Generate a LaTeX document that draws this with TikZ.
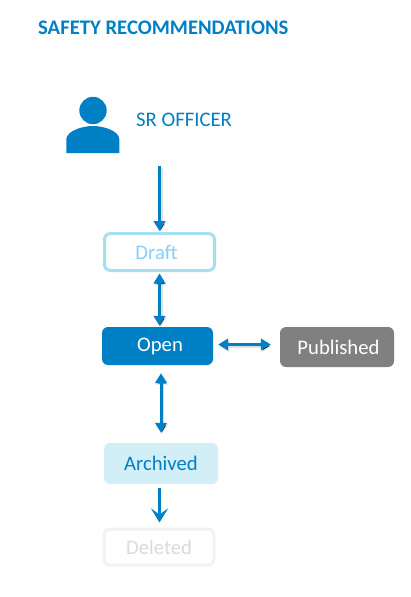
\documentclass[tikz,border=0pt]{standalone}
\usepackage{fontspec}
\setmainfont{Carlito}
\usetikzlibrary{arrows.meta}
\definecolor{srblue}{HTML}{0080C4}
\definecolor{srlight}{HTML}{A5E0F0}
\definecolor{srpale}{HTML}{D2EEF6}
\definecolor{srgrey}{HTML}{808080}
\definecolor{srtext}{HTML}{85CFFA}
\tikzset{
  x=1pt,y=-1pt,
  box/.style={rounded corners=6pt,minimum height=0pt,inner sep=0pt,font=\fontsize{20.7}{24}\selectfont},
  link/.style={draw=srblue,line width=3pt,
    preaction={draw=black,draw opacity=.12,line width=4pt,transform canvas={shift={(1pt,-1.5pt)}}}},
  dbl/.style={link,{Triangle[length=10pt,width=11.5pt]}-{Triangle[length=10pt,width=11.5pt]}},
  sgl/.style={link,-{Triangle[length=10pt,width=11.5pt]}},
  opn/.style={draw=srblue,line width=3pt,-{Stealth[length=14pt,width=17pt,inset=6pt]}},
}
\begin{document}
\begin{tikzpicture}
\useasboundingbox (0,0) rectangle (411,597);
\node[anchor=west,text=srblue,inner sep=0pt,font=\fontsize{20.7}{24}\selectfont\bfseries] (title) at (38,28) {SAFETY RECOMMENDATIONS};
\node[anchor=west,text=srblue,inner sep=0pt,font=\fontsize{20.7}{24}\selectfont] (officer) at (136,120) {SR OFFICER};
\fill[srblue] (93,110.5) circle (13.7);
\fill[srblue] (66.3,153) -- (66.3,139) .. controls (67,131) and (82,126) .. (93,126) .. controls (104,126) and (119,131) .. (119.3,139) -- (119.3,153) -- cycle;
\coordinate (iconfoot) at (159.5,166);
\node[box,draw=srlight,line width=3pt,fill=white,text=srtext,minimum width=110pt,minimum height=37pt] (draft) at (159.5,252) {\hspace*{-6pt}Draft};
\node[box,fill=srblue,text=white,minimum width=111pt,minimum height=38pt] (open) at (157.5,346) {\hspace*{5pt}Open};
\node[box,fill=srgrey,text=white,minimum width=114pt,minimum height=40pt] (published) at (337,347) {\hspace*{3pt}Published};
\node[box,fill=srpale,text=srblue,minimum width=114pt,minimum height=41pt] (archived) at (161,463.5) {Archived};
\node[box,draw=black!5,line width=3pt,fill=white,text=black!14,minimum width=110pt,minimum height=36pt] (deleted) at (159,547) {Deleted};
\draw[sgl,shorten >=1pt] (iconfoot) -- (iconfoot |- draft.north);
\draw[dbl,shorten <=1.5pt,shorten >=1pt] (draft.south) -- (draft.south |- open.north);
\draw[dbl,shorten <=5pt,shorten >=9pt] ([yshift=1.5pt]open.east) -- ([yshift=1.5pt]open.east -| published.west);
\draw[dbl,shorten <=8pt,shorten >=10pt] (archived.north |- open.south) -- (archived.north);
\draw[opn,shorten <=4pt,shorten >=5pt] ([xshift=-1.5pt]archived.south) -- ([xshift=-1.5pt]archived.south |- deleted.north);
\end{tikzpicture}
\end{document}
